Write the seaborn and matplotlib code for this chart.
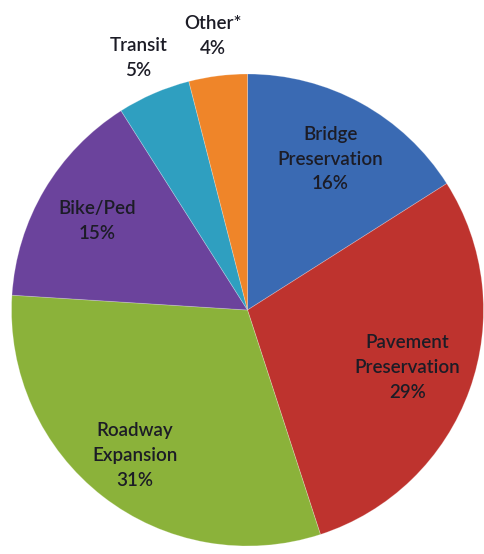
import numpy as np
import matplotlib
matplotlib.use("Agg")
import matplotlib.pyplot as plt
import seaborn as sns

# Data
categories = ["Bridge\nPreservation", "Pavement\nPreservation", "Roadway\nExpansion",
              "Bike/Ped", "Transit", "Other*"]
shares = [16, 29, 31, 15, 5, 4]
colors_hex = ["#3A6AB3", "#BE332E", "#8BB23A", "#6B439C", "#2F9FC0", "#EF8529"]

# Label styling (radial distance as fraction of radius)
label_dist = [0.73, 0.72, 0.78, 0.74, 1.165, 1.17]

sns.set_theme(style="white")
plt.rcParams['font.family'] = ['Lato', 'DejaVu Sans']

W, H, DPI = 485, 554, 100
fig = plt.figure(figsize=(W / DPI, H / DPI), dpi=DPI)
fig.patch.set_facecolor("white")

cx, cy, r = 247.5, 310, 236
ax = fig.add_axes([(cx - r) / W, (H - cy - r) / H, 2 * r / W, 2 * r / H])

palette = sns.color_palette(colors_hex)
wedges, _ = ax.pie(shares, colors=palette, startangle=90, counterclock=False,
                   wedgeprops=dict(linewidth=0.6, edgecolor="#ffffff40"))
ax.set_xlim(-1, 1)
ax.set_ylim(-1, 1)
ax.set_aspect("auto")
ax.axis("off")

for w, cat, val, d in zip(wedges, categories, shares, label_dist):
    theta = np.deg2rad((w.theta1 + w.theta2) / 2)
    x, y = d * np.cos(theta), d * np.sin(theta)
    ax.text(x, y, f"{cat}\n{val}%", ha="center", va="center",
            fontsize=13.5, color="#1c1c26", linespacing=1.55,
            fontweight="semibold", clip_on=False)

fig.savefig("out.png", dpi=DPI, facecolor="white")
